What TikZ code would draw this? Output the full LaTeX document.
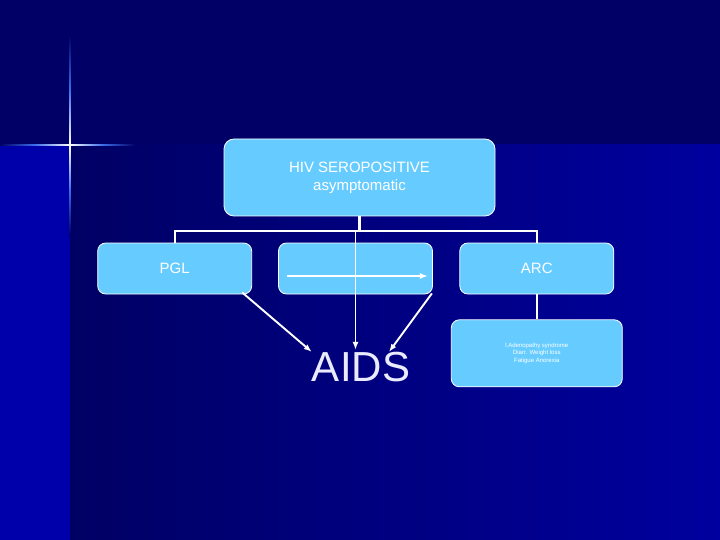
\documentclass[tikz,border=0pt]{standalone}
\usepackage{fontspec}
\setmainfont{Liberation Sans}
\usepackage{xcolor}
\usepackage{tikz}
\usetikzlibrary{arrows.meta,positioning}

\definecolor{slidenavy}{RGB}{0,0,102}
\definecolor{slidedark}{RGB}{0,0,100}
\definecolor{slideblue}{RGB}{0,0,158}
\definecolor{slidestrip}{RGB}{0,0,170}
\definecolor{starblue}{RGB}{60,110,235}
\definecolor{boxblue}{RGB}{102,204,255}
\definecolor{aidswhite}{RGB}{235,235,255}

\begin{document}
\begin{tikzpicture}[
    >={Latex[length=8pt,width=6pt]},
    x=1pt, y=-1pt,
    stagebox/.style={
      draw=white,
      line width=0.8pt,
      fill=boxblue,
      rounded corners=8pt,
      minimum width=154pt,
      minimum height=51pt,
      align=center,
      text=white,
      font=\fontsize{15}{18}\selectfont
    },
    tree/.style={draw=white, line width=2.4pt},
    link/.style={draw=white, line width=1.9pt, ->}
  ]
  \useasboundingbox (0,0) rectangle (720,540);

  % background
  \fill[slidenavy] (0,0) rectangle (720,145);
  \fill[slidestrip] (0,145) rectangle (70,540);
  \shade[left color=slidedark, right color=slideblue] (70,145) rectangle (720,540);

  % star
  \shade[top color=slidenavy, bottom color=white, middle color=starblue] (69.2,35) rectangle (70.8,145);
  \shade[top color=white, bottom color=slidedark, middle color=starblue] (69.2,145) rectangle (70.8,235);
  \shade[left color=slidenavy, right color=white, middle color=starblue] (0,144.2) rectangle (70,145.8);
  \shade[left color=white, right color=slidenavy, middle color=starblue] (70,144.2) rectangle (135,145.8);

  % boxes
  \node[
    stagebox,
    rounded corners=10pt,
    minimum width=271pt,
    minimum height=77pt
  ] (hiv) at (359.5,177.5) {HIV SEROPOSITIVE\\asymptomatic};
  \node[stagebox] (mid) at (355.5,268.5) {};
  \node[stagebox, left=26pt of mid] (pgl) {PGL};
  \node[stagebox, right=26.5pt of mid] (arc) {ARC};
  \node[
    stagebox,
    minimum width=171pt,
    minimum height=67pt,
    font=\fontsize{6}{7.5}\selectfont,
    below=25pt of arc
  ] (arcsigns) {l.Adenopathy syndrome\\Diarr. Weight loss\\Fatigue Anorexia};
  \node[
    inner sep=0pt,
    text=aidswhite,
    font=\fontsize{42}{44}\selectfont
  ] (aids) at (361,367) {AIDS};

  % tree
  \coordinate (bus) at (0,231);
  \draw[tree] (hiv.south) -- (hiv.south |- bus);
  \draw[tree] (pgl.north) -- (pgl.north |- bus) -- (arc.north |- bus) -- (arc.north);
  \draw[tree] (arc.south) -- (arcsigns.north);

  % arrows
  \draw[link] ([shift={(9,7.5)}]mid.west) -- ([shift={(-5,7.5)}]mid.east);
  \draw[link] (mid.north |- bus) -- ([yshift=2pt]mid.north |- aids.north);
  \draw[link] ([shift={(-10,-2)}]pgl.south east) -- (aids.north west);
  \draw[link] ([shift={(-1,-1)}]mid.south east) -- ([xshift=28pt]aids.north);
\end{tikzpicture}
\end{document}
